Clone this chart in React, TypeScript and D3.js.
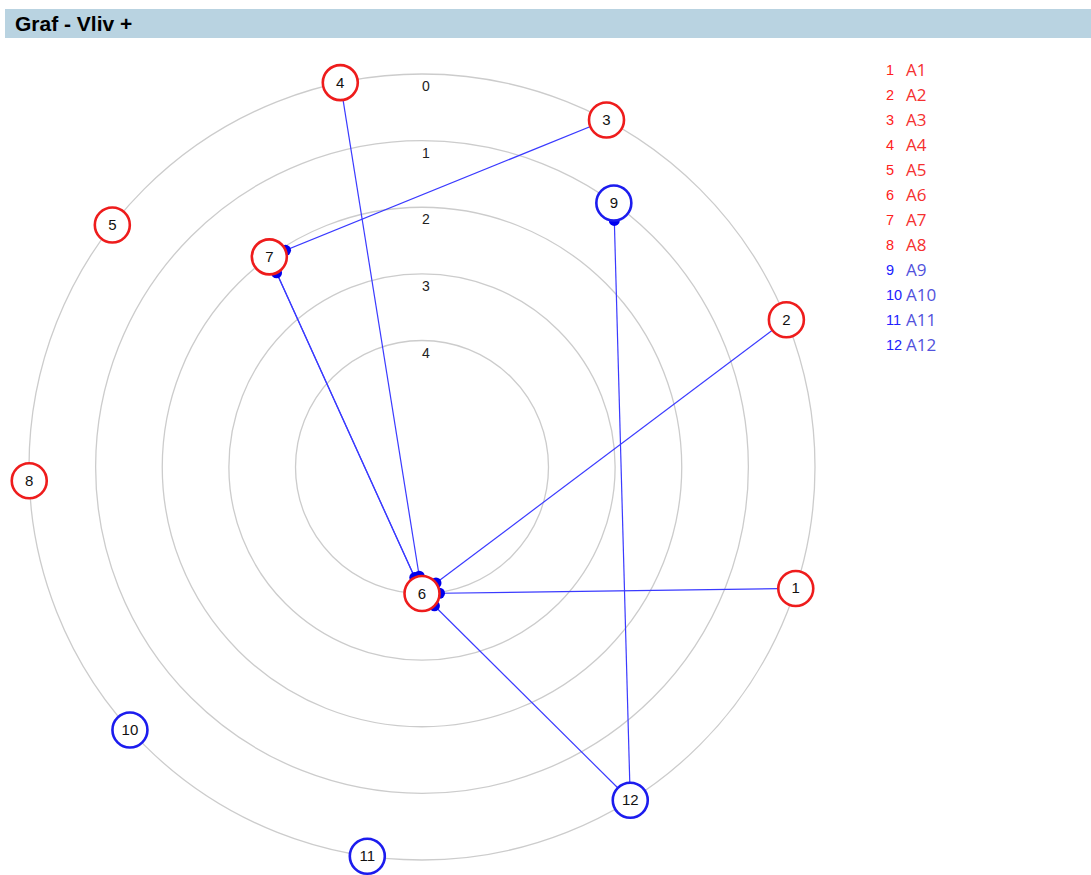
import React from "react";
import * as d3 from "d3";

const nodeIds = [1, 2, 3, 4, 5, 6, 7, 8, 9, 10, 11, 12];
const nodeLabels = ["A1", "A2", "A3", "A4", "A5", "A6", "A7", "A8", "A9", "A10", "A11", "A12"];
const nodeGroups = ["r", "r", "r", "r", "r", "r", "r", "r", "b", "b", "b", "b"];
const nodeLevels = [0, 0, 0, 0, 0, 4, 2, 0, 1, 0, 0, 0];
const nodeAngles = [18, -22, -62, -102, -142, 90, -126, 178, -54, 138, 98, 58];
const ringLevels = [0, 1, 2, 3, 4];
const edgeSources = [1, 2, 3, 4, 6, 7, 12, 12];
const edgeTargets = [6, 6, 7, 6, 7, 6, 6, 9];

const W = 1091;
const H = 875;
const cx = 422;
const cy = 467;
const nodeR = 17.5;

const rScale = d3.scaleLinear().domain([0, 4]).range([393, 126.5]);
const colorStroke = d3.scaleOrdinal<string, string>().domain(["r", "b"]).range(["#ee1c1c", "#1c1cee"]);
const colorNum = d3.scaleOrdinal<string, string>().domain(["r", "b"]).range(["#ff2020", "#2020ff"]);
const colorLegend = d3.scaleOrdinal<string, string>().domain(["r", "b"]).range(["#f53030", "#5252dc"]);

function pos(i: number) {
  const r = rScale(nodeLevels[i]);
  const a = (nodeAngles[i] * Math.PI) / 180;
  return [cx + r * Math.cos(a), cy + r * Math.sin(a)];
}

export default function App() {
  const edges = edgeSources.map((s, k) => {
    const [x1, y1] = pos(s - 1);
    const [x2, y2] = pos(edgeTargets[k] - 1);
    const dx = x2 - x1;
    const dy = y2 - y1;
    const len = Math.hypot(dx, dy);
    const ex = x2 - (dx / len) * nodeR;
    const ey = y2 - (dy / len) * nodeR;
    return { x1, y1, x2, y2, ex, ey };
  });
  const legendY = d3.scaleLinear().domain([0, 1]).range([70, 95]);
  return (
    <svg width={W} height={H} style={{ position: "absolute", left: 0, top: 0 }} fontFamily="Arial, 'Liberation Sans', sans-serif">
      <rect x={5} y={9} width={W - 5} height={29} fill="#b9d3e1" />
      <text x={15} y={31} fontSize={21} fontWeight="bold" fill="#000">Graf - Vliv +</text>
      {ringLevels.map((l) => (
        <circle key={"ring" + l} cx={cx} cy={cy} r={rScale(l)} fill="none" stroke="#cccccc" strokeWidth={1.3} />
      ))}
      {ringLevels.map((l) => (
        <text key={"rl" + l} x={cx + 4} y={cy - rScale(l) + 17} fontSize={14} textAnchor="middle" fill="#222">{l}</text>
      ))}
      {edges.map((e, k) => (
        <line key={"e" + k} x1={e.x1} y1={e.y1} x2={e.x2} y2={e.y2} stroke="#3a3aff" strokeWidth={1.2} />
      ))}
      {edges.map((e, k) => (
        <circle key={"d" + k} cx={e.ex} cy={e.ey} r={5.5} fill="#0000ee" />
      ))}
      {nodeIds.map((id, i) => {
        const [x, y] = pos(i);
        return (
          <g key={"n" + id}>
            <circle cx={x} cy={y} r={nodeR} fill="#fff" stroke={colorStroke(nodeGroups[i])} strokeWidth={2.6} />
            <text x={x} y={y + 5} fontSize={15} textAnchor="middle" fill="#111">{id}</text>
          </g>
        );
      })}
      {nodeIds.map((id, i) => (
        <g key={"lg" + id}>
          <text x={886} y={legendY(i) + 5} fontSize={14.5} fill={colorNum(nodeGroups[i])}>{id}</text>
          <text x={906} y={legendY(i) + 6} fontSize={17} fontFamily="'Open Sans', sans-serif" fill={colorLegend(nodeGroups[i])}>{nodeLabels[i]}</text>
        </g>
      ))}
    </svg>
  );
}
